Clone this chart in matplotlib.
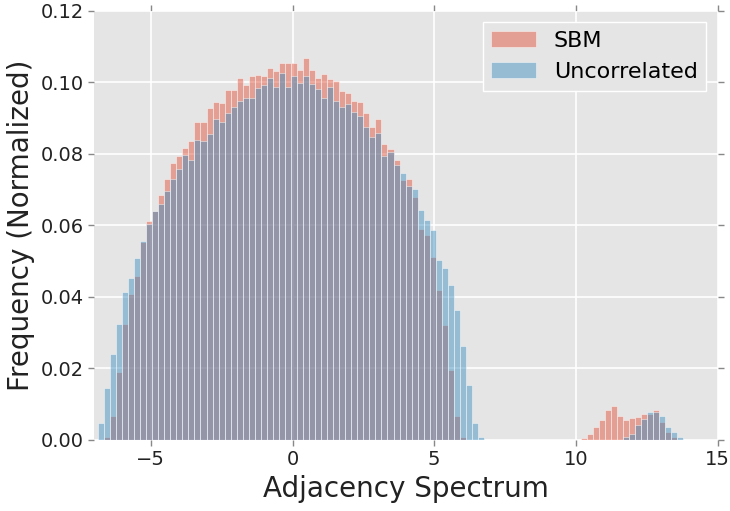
import numpy as np
import matplotlib
matplotlib.use('Agg')
import matplotlib.pyplot as plt

# histogram bins shared by both spectra
bin_start = -6.868
bin_width = 0.2129

# normalized frequency per bin
sbm = [0.0, 0.0009, 0.0067, 0.0191, 0.0324, 0.0409, 0.0459, 0.0554, 0.0613, 0.0640,
       0.0685, 0.0729, 0.0775, 0.0794, 0.0815, 0.0835, 0.0889, 0.0889, 0.0929, 0.0945,
       0.0943, 0.0977, 0.0977, 0.1011, 0.0993, 0.1018, 0.1019, 0.1018, 0.1040, 0.1032,
       0.1053, 0.1053, 0.1053, 0.1035, 0.1069, 0.1035, 0.1013, 0.1023, 0.1010, 0.1004,
       0.0976, 0.0970, 0.0948, 0.0946, 0.0915, 0.0876, 0.0897, 0.0827, 0.0813, 0.0783,
       0.0726, 0.0730, 0.0679, 0.0590, 0.0573, 0.0511, 0.0420, 0.0322, 0.0196, 0.0067,
       0.0008, 0.0, 0.0, 0.0, 0.0, 0.0, 0.0, 0.0, 0.0, 0.0,
       0.0, 0.0, 0.0, 0.0, 0.0, 0.0, 0.0, 0.0, 0.0, 0.0,
       0.0005, 0.0017, 0.0037, 0.0056, 0.0084, 0.0096, 0.0067, 0.0056, 0.0062, 0.0065,
       0.0073, 0.0074, 0.0084, 0.0049, 0.0023, 0.0007, 0.0]

uncorrelated = [0.0048, 0.0144, 0.0241, 0.0324, 0.0415, 0.0454, 0.0509, 0.0556, 0.0603, 0.0641,
                0.0660, 0.0697, 0.0730, 0.0758, 0.0796, 0.0783, 0.0839, 0.0837, 0.0854, 0.0896,
                0.0889, 0.0915, 0.0930, 0.0948, 0.0955, 0.0955, 0.0983, 0.0993, 0.1012, 0.0986,
                0.1025, 0.0987, 0.1018, 0.0999, 0.1018, 0.0995, 0.0980, 0.0955, 0.0986, 0.0948,
                0.0932, 0.0940, 0.0916, 0.0907, 0.0874, 0.0848, 0.0859, 0.0795, 0.0806, 0.0770,
                0.0745, 0.0711, 0.0702, 0.0643, 0.0615, 0.0587, 0.0503, 0.0482, 0.0434, 0.0364,
                0.0263, 0.0154, 0.0047, 0.0008, 0.0, 0.0, 0.0, 0.0, 0.0, 0.0,
                0.0, 0.0, 0.0, 0.0, 0.0, 0.0, 0.0, 0.0, 0.0, 0.0,
                0.0, 0.0, 0.0, 0.0, 0.0, 0.0, 0.0, 0.0007, 0.0016, 0.0042,
                0.0059, 0.0077, 0.0077, 0.0068, 0.0037, 0.0021, 0.0009]

n_bins = len(sbm)
edges = bin_start + bin_width * np.arange(n_bins + 1)
centers = (edges[:-1] + edges[1:]) / 2

fig = plt.figure(figsize=(7.3, 5.11), dpi=100)
ax = fig.add_axes([0.129, 0.139, 0.854, 0.840])
ax.set_facecolor('#E5E5E5')
ax.set_axisbelow(True)
ax.grid(True, color='white', linewidth=1.2)
for s in ax.spines.values():
    s.set_visible(False)

ax.hist(centers, bins=edges, weights=sbm, color='#E24A33', alpha=0.45,
        edgecolor='white', linewidth=0.7, label='SBM')
ax.hist(centers, bins=edges, weights=uncorrelated, color='#348ABD', alpha=0.45,
        edgecolor='white', linewidth=0.7, label='Uncorrelated')

ax.set_xlim(-7, 15)
ax.set_ylim(0, 0.12)
ax.set_xticks([-5, 0, 5, 10, 15])
ax.set_yticks(np.arange(0, 0.121, 0.02))
ax.yaxis.set_major_formatter(matplotlib.ticker.FormatStrFormatter('%.2f'))
ax.tick_params(direction='out', length=4, width=1, color='#888888',
               labelsize=14, labelcolor='#222222', top=True, right=True)

ax.set_xlabel('Adjacency Spectrum', fontsize=20, color='#222222')
ax.set_ylabel('Frequency (Normalized)', fontsize=20, color='#222222')

leg = ax.legend(loc='upper right', fontsize=16, fancybox=False, borderaxespad=0.5)
leg.get_frame().set_facecolor('#E5E5E5')
leg.get_frame().set_edgecolor('white')
leg.get_frame().set_alpha(1)

fig.savefig('out.png', dpi=100)
